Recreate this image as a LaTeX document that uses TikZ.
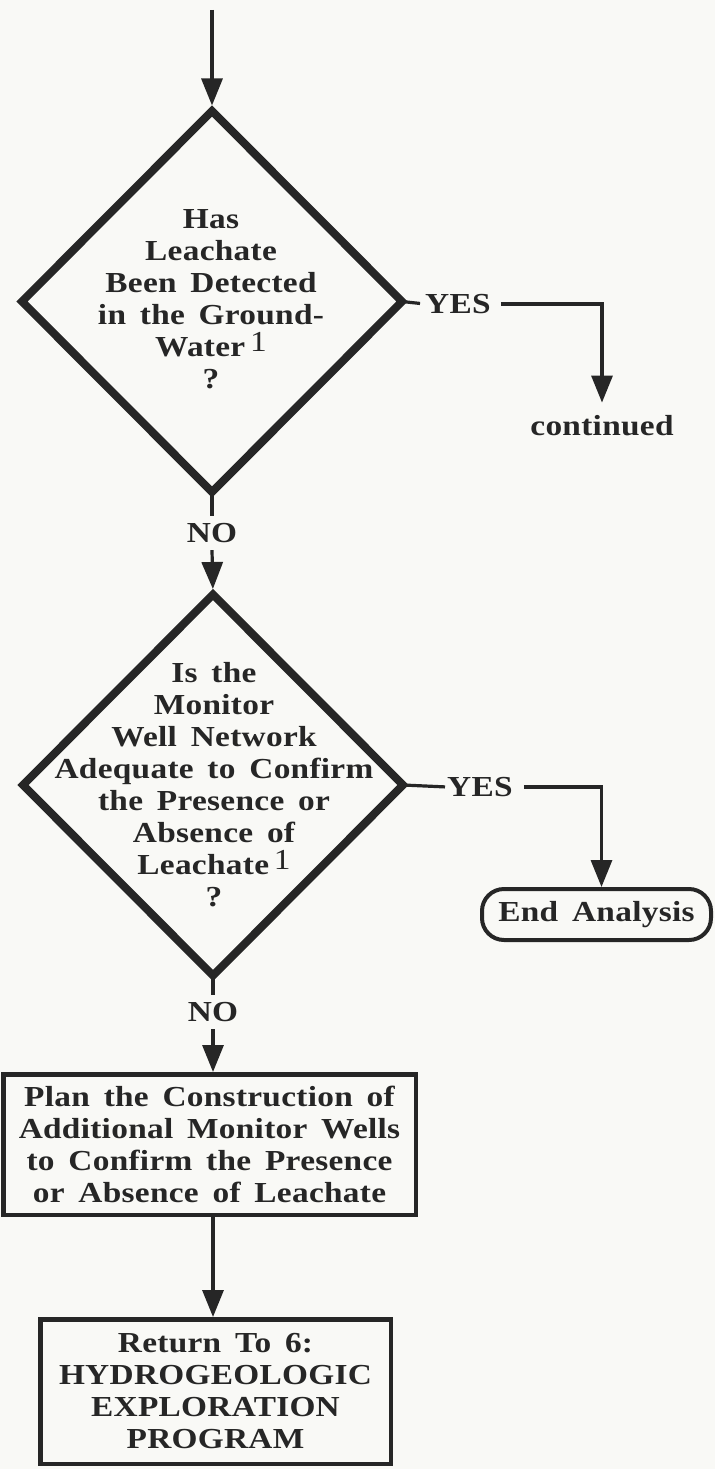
\documentclass[tikz,border=0pt]{standalone}
\usepackage{fontspec}
\setmainfont{Liberation Serif}[FakeStretch=1.15, LetterSpace=1, WordSpace=1.6]
\usetikzlibrary{arrows.meta,shapes.geometric}
\definecolor{ink}{RGB}{38,38,38}
\definecolor{paper}{RGB}{249,249,246}
\newcommand{\fnote}{\,\raisebox{5pt}{\mdseries 1}}
\begin{document}
\begin{tikzpicture}[x=1pt,y=-1pt,
  every node/.style={text=ink},
  lbl/.style={font=\fontsize{29}{32}\selectfont\bfseries, inner sep=0pt},
  txt/.style={lbl, align=center},
  decision/.style={diamond, draw=ink, line width=8pt, miter limit=10,
    inner sep=0pt, outer sep=0pt, minimum width=380pt, minimum height=381pt},
  procbox/.style={draw=ink, line width=4.5pt, txt},
  termbox/.style={draw=ink, line width=4pt, rounded corners=22pt, lbl},
  flow/.style={draw=ink, line width=3.2pt},
  arr/.style={flow, -{Triangle[width=21pt,length=27pt]}}
]
\fill[paper] (0,0) rectangle (715,1469);
\useasboundingbox (0,0) rectangle (715,1469);

% entry point
\coordinate (start) at (212,10);

% first decision
\node[decision] (d1) at (212,301.5) {};
\node[txt] (t1) at (211,299) {Has\\Leachate\\Been Detected\\in the Ground-\\Water\fnote\\?};

% branch labels of the first decision
\node[lbl] (no1) at (212,533) [minimum height=34pt] {NO};
\node[lbl, anchor=west] (yes1) at (425,304) {YES};
\node[lbl] (cont) at (602,426) {continued};

% second decision
\node[decision] (d2) at (213,785) {};
\node[txt] (t2) at (214,784.5) {Is the\\Monitor\\Well Network\\Adequate to Confirm\\the Presence or\\Absence of\\Leachate\fnote\\?};

\node[lbl] (no2) at (213,1012) [minimum height=34pt] {NO};
\node[lbl, anchor=west] (yes2) at (447,787) {YES};
\node[termbox, minimum width=229pt, minimum height=51pt] (end) at (596.5,914.5) {End Analysis};

% action boxes
\node[procbox, minimum width=412.5pt, minimum height=140.5pt] (plan) at (209.5,1144.5)
  {Plan the Construction of\\Additional Monitor Wells\\to Confirm the Presence\\or Absence of Leachate};
\node[procbox, minimum width=350.5pt, minimum height=144.5pt] (ret) at (215.5,1391.5)
  {Return To 6:\\HYDROGEOLOGIC\\EXPLORATION\\PROGRAM};

% connectors
\draw[arr, shorten >=5.5pt] (start) -- (d1.north);
\draw[flow] (d1.south) -- (no1.north);
\draw[arr, shorten >=5.5pt] (no1.south) -- (d2.north);
\draw[flow, shorten >=5pt] (d1.east) -- (yes1.west);
\draw[arr, shorten <=10pt, shorten >=13pt] (yes1.east) -| (cont.north);
\draw[flow] (d2.south) -- (no2.north);
\draw[arr] (no2.south) -- (no2.south |- plan.north);
\draw[flow, shorten >=2pt] (d2.east) -- (yes2.west);
\draw[arr, shorten <=11pt] (yes2.east) -| ([xshift=5pt]end.north);
\draw[arr] (plan.south -| no2.south) -- (ret.north -| no2.south);
\end{tikzpicture}
\end{document}
